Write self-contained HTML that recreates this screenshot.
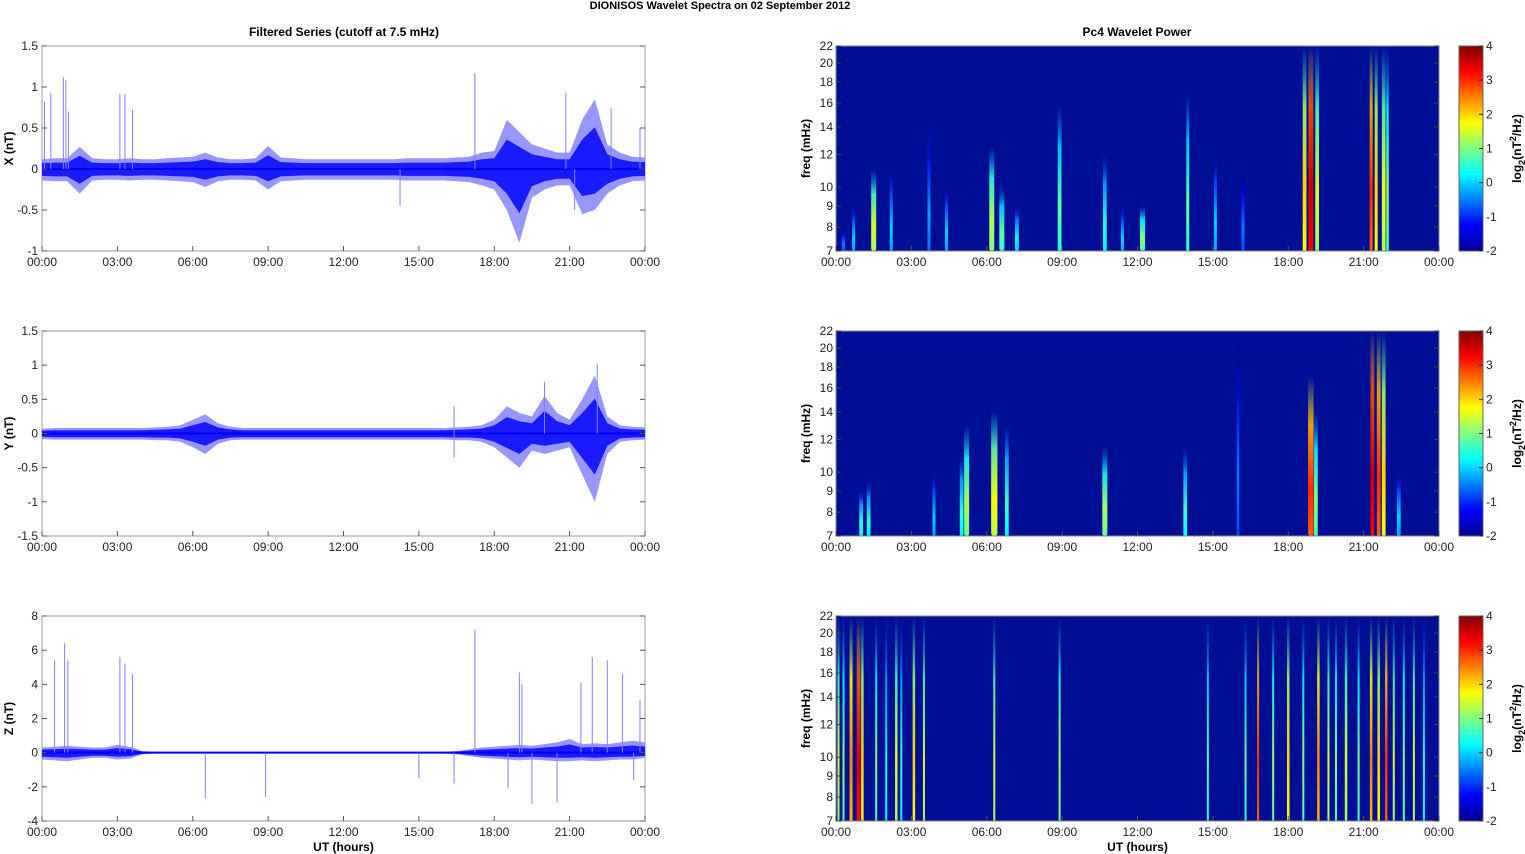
<!DOCTYPE html>
<html><head><meta charset="utf-8">
<style>
html,body{margin:0;padding:0;background:#fff;}
svg{display:block;font-family:"Liberation Sans",Arial,sans-serif;}
</style></head>
<body>
<svg id="fig" width="1525" height="854" viewBox="0 0 1525 854" xmlns="http://www.w3.org/2000/svg">
<defs>
<linearGradient id="jetbar" x1="0" y1="1" x2="0" y2="0">
<stop offset="0" stop-color="#00008f"/><stop offset="0.125" stop-color="#0000ff"/><stop offset="0.375" stop-color="#00ffff"/><stop offset="0.625" stop-color="#ffff00"/><stop offset="0.875" stop-color="#ff0000"/><stop offset="1" stop-color="#800000"/>
</linearGradient>
</defs>
<text x="720" y="9" font-size="11" font-weight="bold" text-anchor="middle">DIONISOS Wavelet Spectra on 02 September 2012</text>
<text x="344" y="36" font-size="12" font-weight="bold" text-anchor="middle">Filtered Series (cutoff at 7.5 mHz)</text>
<text x="1137" y="36" font-size="12" font-weight="bold" text-anchor="middle">Pc4 Wavelet Power</text>
<g id="root"></g>
</svg>
<script>
// ---------- DATA ----------
const timeTicks = ["00:00","03:00","06:00","09:00","12:00","15:00","18:00","21:00","00:00"];
const freqTicks = [7,8,9,10,12,14,16,18,20,22];
const cbTicks = [-2,-1,0,1,2,3,4];
// envelopes per half hour (49 values, 0..24h)
const xEnvUp = [0.12,0.13,0.13,0.27,0.13,0.12,0.12,0.13,0.12,0.12,0.13,0.14,0.15,0.2,0.14,0.12,0.12,0.13,0.28,0.14,0.13,0.12,0.12,0.12,0.12,0.12,0.12,0.12,0.12,0.13,0.13,0.13,0.13,0.14,0.15,0.2,0.22,0.6,0.45,0.3,0.25,0.2,0.2,0.6,0.85,0.3,0.2,0.15,0.14];
const xEnvDn = [0.14,0.15,0.15,0.3,0.14,0.13,0.13,0.14,0.13,0.13,0.14,0.15,0.16,0.22,0.15,0.13,0.13,0.14,0.25,0.15,0.14,0.13,0.13,0.13,0.13,0.13,0.13,0.13,0.13,0.14,0.14,0.14,0.14,0.15,0.16,0.2,0.25,0.5,0.9,0.35,0.25,0.2,0.2,0.55,0.5,0.3,0.2,0.15,0.14];
const yEnvUp = [0.07,0.08,0.08,0.08,0.08,0.08,0.08,0.08,0.08,0.09,0.1,0.12,0.2,0.28,0.15,0.1,0.08,0.08,0.08,0.08,0.08,0.08,0.08,0.08,0.08,0.08,0.08,0.08,0.08,0.08,0.08,0.08,0.08,0.09,0.1,0.12,0.2,0.4,0.3,0.25,0.55,0.3,0.2,0.5,0.85,0.25,0.12,0.1,0.09];
const yEnvDn = [0.08,0.09,0.09,0.09,0.09,0.09,0.09,0.09,0.09,0.1,0.1,0.12,0.2,0.3,0.15,0.1,0.09,0.09,0.09,0.09,0.09,0.09,0.09,0.09,0.09,0.09,0.09,0.09,0.09,0.09,0.09,0.09,0.09,0.1,0.1,0.12,0.2,0.35,0.5,0.25,0.3,0.25,0.2,0.6,1.0,0.3,0.12,0.1,0.09];
const zEnvUp = [0.3,0.35,0.4,0.35,0.3,0.3,0.45,0.35,0.1,0.05,0.05,0.05,0.05,0.05,0.05,0.05,0.05,0.05,0.05,0.05,0.05,0.05,0.05,0.05,0.05,0.05,0.05,0.05,0.05,0.05,0.05,0.05,0.05,0.1,0.2,0.3,0.35,0.4,0.45,0.4,0.5,0.6,0.8,0.5,0.55,0.5,0.6,0.7,0.6];
const zEnvDn = [0.4,0.45,0.5,0.4,0.3,0.3,0.4,0.35,0.1,0.05,0.05,0.05,0.05,0.05,0.05,0.05,0.05,0.05,0.05,0.05,0.05,0.05,0.05,0.05,0.05,0.05,0.05,0.05,0.05,0.05,0.05,0.05,0.05,0.1,0.2,0.3,0.35,0.4,0.45,0.4,0.45,0.5,0.5,0.45,0.5,0.45,0.4,0.4,0.3];
// spikes: time (h) and value
const xSpikeT = [0.1,0.35,0.85,0.95,1.05,3.1,3.3,3.6,14.25,17.23,20.85,21.2,22.65,23.8];
const xSpikeV = [0.82,0.93,1.12,1.08,0.7,0.92,0.91,0.72,-0.45,1.17,0.93,-0.5,0.75,0.5];
const ySpikeT = [16.4,16.4,20.0,22.1];
const ySpikeV = [0.4,-0.35,0.75,1.02];
const zSpikeT = [0.5,0.9,1.03,3.1,3.3,3.6,6.5,8.9,15.0,16.4,17.23,18.55,19.0,19.1,19.5,20.5,21.45,21.9,22.5,23.1,23.8,23.55];
const zSpikeV = [5.4,6.4,5.4,5.6,5.2,4.6,-2.7,-2.6,-1.5,-1.8,7.2,-2.1,4.7,4.0,-3.0,-2.9,4.1,5.6,5.4,4.6,3.1,-1.6];
// wavelet events: time (h), top freq (mHz), peak log2 power, width (h)
const s1T = [0.3,0.7,1.5,2.2,3.7,4.4,6.2,6.6,7.2,8.9,10.7,11.4,12.2,14.0,15.1,16.2,18.65,18.9,19.15,21.3,21.5,21.8,21.95];
const s1F = [8,9,11,11,14,10,12.5,10,9,16,12,9,9,17,12,11,22,22,22,22,22,22,22];
const s1V = [-0.5,0,1.5,0,-0.3,0,1.3,0.8,0.3,0.8,0.5,0,1,0.8,0,-0.5,2,3.6,1.5,3,2,1.6,1];
const s1W = [0.12,0.12,0.2,0.12,0.12,0.12,0.2,0.2,0.15,0.15,0.15,0.12,0.2,0.12,0.12,0.12,0.15,0.2,0.15,0.12,0.12,0.15,0.1];
const s2T = [1.0,1.3,3.9,5.0,5.2,6.3,6.8,10.7,13.9,16.0,18.9,19.1,21.35,21.6,21.8,22.4];
const s2F = [9,9.5,10,11,13,14,13,11.5,11.5,22,17,14,22,22,22,10];
const s2V = [0.5,0.5,0,0.5,1.2,1.7,0.6,1.2,0.6,-0.5,3,1,3.6,3,2,0];
const s2W = [0.15,0.15,0.12,0.15,0.2,0.25,0.15,0.2,0.15,0.1,0.22,0.15,0.15,0.15,0.15,0.15];
const s3T = [0.1,0.3,0.6,0.9,1.05,1.6,2.0,2.4,2.6,3.1,3.5,6.3,8.9,14.8,16.3,16.8,17.4,18.0,18.6,19.2,19.6,19.9,20.3,20.8,21.3,21.6,21.9,22.2,22.6,23.0,23.4];
const s3F = [22,22,22,22,22,22,22,22,22,22,22,22,22,22,22,22,22,22,22,22,22,22,22,22,22,22,22,22,22,22,22];
const s3V = [1.5,1,2.5,3.5,2,1,0.5,1.5,0.5,2,1.5,1.5,1.2,0.8,0.8,3,1.2,2,1,2.5,1.5,1,1.5,1,2.5,2,3,1.5,1,1.5,0.5];
const s3W = [0.08,0.08,0.12,0.15,0.1,0.08,0.08,0.1,0.08,0.1,0.08,0.08,0.06,0.06,0.06,0.08,0.08,0.1,0.08,0.1,0.08,0.08,0.1,0.08,0.1,0.1,0.1,0.08,0.08,0.08,0.08];

// ---------- LAYOUT ----------
const NS="http://www.w3.org/2000/svg";
const root=document.getElementById('root');
const LX=42, RX=836, PW=603, PH=205, TOPS=[46,331,616];
function mk(tag,attrs,parent){const e=document.createElementNS(NS,tag);for(const k in attrs)e.setAttribute(k,attrs[k]);(parent||root).appendChild(e);return e;}
function jet(v){let t=(v+2)/6;t=Math.max(0,Math.min(1,t));
 const r=Math.max(0,Math.min(1,1.5-Math.abs(4*t-3))),g=Math.max(0,Math.min(1,1.5-Math.abs(4*t-2))),b=Math.max(0,Math.min(1,1.5-Math.abs(4*t-1)));
 return `rgb(${Math.round(r*255)},${Math.round(g*255)},${Math.round(b*255)})`;}

function timeAxis(g,x0,y0,showLabel){
 const xs=t=>x0+t/24*PW;
 timeTicks.forEach((lab,i)=>{const x=xs(i*3);
  const tk=mk('line',{x1:x,y1:y0+PH,x2:x,y2:y0+PH-5,stroke:'#555'},g);
  
  
  const t=mk('text',{x:x,y:y0+PH+15,'font-size':12,'text-anchor':'middle',fill:'#222'},g);t.textContent=lab;
  
  
 });
 if(showLabel){const t=mk('text',{x:x0+PW/2,y:y0+PH+30,'font-size':12,'font-weight':'bold','text-anchor':'middle'},g);t.textContent='UT (hours)';
  
  }
}

function band(g,xs,ys,up,dn,k,fill,op){
 let pts=[];
 for(let i=0;i<up.length;i++)pts.push(xs(i/2).toFixed(1)+','+ys(up[i]*k).toFixed(1));
 for(let i=dn.length-1;i>=0;i--)pts.push(xs(i/2).toFixed(1)+','+ys(-dn[i]*k).toFixed(1));
 const b=mk('polygon',{points:pts.join(' '),fill:fill,'fill-opacity':op},g);
 
 
}

function seriesPanel(idx,name,ymin,ymax,ticks,envUp,envDn,spT,spV){
 const y0=TOPS[idx];
 const g=mk('g',{});
 
 
 const xs=t=>LX+t/24*PW, ys=v=>y0+PH-(v-ymin)/(ymax-ymin)*PH;
 mk('rect',{x:LX,y:y0,width:PW,height:PH,fill:'#fff',stroke:'#999'},g);
 band(g,xs,ys,envUp,envDn,1,'#8c8cff',0.9);
 band(g,xs,ys,envUp,envDn,0.6,'#1a1aff',1);
 mk('line',{x1:LX,x2:LX+PW,y1:ys(0),y2:ys(0),stroke:'#0000ee','stroke-width':2},g);
 spT.forEach((t,i)=>{const l=mk('line',{x1:xs(t),x2:xs(t),y1:ys(0),y2:ys(spV[i]),stroke:'#8080ff','stroke-width':1},g);
  
  });
 ticks.forEach(v=>{const y=ys(v);
  mk('line',{x1:LX,x2:LX+5,y1:y,y2:y,stroke:'#555'},g);
  mk('line',{x1:LX+PW,x2:LX+PW-5,y1:y,y2:y,stroke:'#555'},g);
  const t=mk('text',{x:LX-4,y:y+4,'font-size':12,'text-anchor':'end',fill:'#222'},g);t.textContent=v;
  
  });
 const yt=mk('text',{x:0,y:0,'font-size':12,'font-weight':'bold','text-anchor':'middle',transform:`translate(13,${y0+PH/2}) rotate(-90)`},g);
 yt.textContent=name+' (nT)';
 
 
 timeAxis(g,LX,y0,idx===2);
}

function specPanel(idx,evT,evF,evV,evW){
 const y0=TOPS[idx];
 const g=mk('g',{});
 
 
 const xs=t=>RX+t/24*PW;
 const fs=f=>y0+PH-Math.log(f/7)/Math.log(22/7)*PH;
 const clip=mk('clipPath',{id:'clip'+idx},g);mk('rect',{x:RX,y:y0,width:PW,height:PH},clip);
 mk('rect',{x:RX,y:y0,width:PW,height:PH,fill:'rgb(0,14,150)'},g);
 const defs=mk('defs',{},g);
 const ev=mk('g',{'clip-path':`url(#clip${idx})`},g);
 evT.forEach((t,i)=>{
  const gid='gr'+idx+'_'+i;
  const lg=mk('linearGradient',{id:gid,x1:0,y1:0,x2:0,y2:1},defs);
  const v=evV[i];
  mk('stop',{offset:0,'stop-color':jet(v-1.5),'stop-opacity':0},lg);
  mk('stop',{offset:0.3,'stop-color':jet(v-0.8),'stop-opacity':0.9},lg);
  mk('stop',{offset:0.7,'stop-color':jet(v),'stop-opacity':1},lg);
  mk('stop',{offset:1,'stop-color':jet(v-0.3),'stop-opacity':1},lg);
  const w=Math.max(2,evW[i]/24*PW);
  const top=fs(evF[i]);
  const r=mk('rect',{x:xs(t)-w/2,y:top,width:w,height:y0+PH-top,fill:`url(#${gid})`,rx:w/2},ev);
  
  
 });
 mk('rect',{x:RX,y:y0,width:PW,height:PH,fill:'none',stroke:'#888'},g);
 freqTicks.forEach(f=>{const y=fs(f);
  mk('line',{x1:RX,x2:RX+5,y1:y,y2:y,stroke:'#444'},g);
  mk('line',{x1:RX+PW,x2:RX+PW-5,y1:y,y2:y,stroke:'#444'},g);
  const t=mk('text',{x:RX-3,y:y+4,'font-size':12,'text-anchor':'end',fill:'#222'},g);t.textContent=f;
  
  });
 const yt=mk('text',{x:0,y:0,'font-size':12,'font-weight':'bold','text-anchor':'middle',transform:`translate(810,${y0+PH/2}) rotate(-90)`},g);
 yt.textContent='freq (mHz)';
 
 
 timeAxis(g,RX,y0,idx===2);
 const cb=mk('g',{},g);
 
 
 mk('rect',{x:1459,y:y0,width:24,height:PH,fill:'url(#jetbar)',stroke:'#666'},cb);
 cbTicks.forEach(v=>{const y=y0+PH-(v+2)/6*PH;
  mk('line',{x1:1479,x2:1483,y1:y,y2:y,stroke:'#333'},cb);
  const t=mk('text',{x:1486,y:y+4,'font-size':12,fill:'#222'},cb);t.textContent=v;});
 const ct=mk('text',{x:0,y:0,'font-size':12,'font-weight':'bold','text-anchor':'middle',transform:`translate(1521,${y0+PH/2}) rotate(-90)`},cb);
 ct.innerHTML='log<tspan font-size="9" dy="4">2</tspan><tspan dy="-4">(nT</tspan><tspan font-size="9" dy="-5">2</tspan><tspan dy="5">/Hz)</tspan>';
 
 
}

seriesPanel(0,'X',-1,1.5,[-1,-0.5,0,0.5,1,1.5],xEnvUp,xEnvDn,xSpikeT,xSpikeV);
seriesPanel(1,'Y',-1.5,1.5,[-1.5,-1,-0.5,0,0.5,1,1.5],yEnvUp,yEnvDn,ySpikeT,ySpikeV);
seriesPanel(2,'Z',-4,8,[-4,-2,0,2,4,6,8],zEnvUp,zEnvDn,zSpikeT,zSpikeV);
specPanel(0,s1T,s1F,s1V,s1W);
specPanel(1,s2T,s2F,s2V,s2W);
specPanel(2,s3T,s3F,s3V,s3W);
</script>
</body></html>
